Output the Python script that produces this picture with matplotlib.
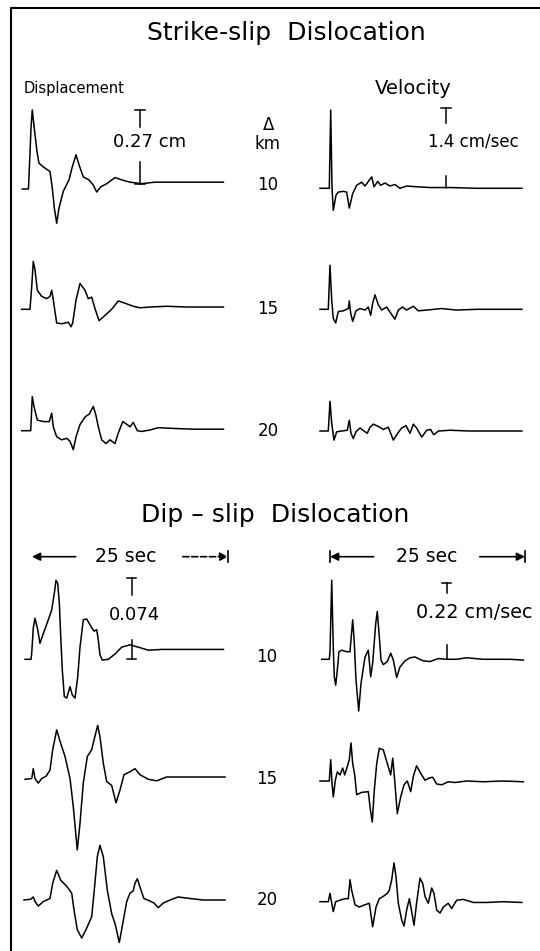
import matplotlib
matplotlib.use("Agg")
import matplotlib.pyplot as plt

W, H, DPI = 540, 951, 100
PX_PER_SEC = 7.8      # horizontal time scale of the traces
PX_PER_UNIT = 76      # one unit = height of the amplitude scale bar

plt.rcParams['font.family'] = ['DejaVu Sans']

# ---- data: time (s) and amplitude (relative to the scale bar) ----
# Strike-slip, displacement
ss_d10_t = [-1.0, -0.2, -0.13, 0.13, 0.29, 0.55, 0.90, 1.15, 1.71, 2.56, 2.86, 3.12, 3.42, 3.72, 4.27, 5.0,
            5.42, 5.90, 6.28, 6.83, 7.56, 8.12, 8.55, 9.10, 9.83, 10.9, 11.76, 12.8, 14.3, 16.0, 19.4, 24.8]
ss_d10_a = [0, 0, 0.16, 0.80, 1.04, 0.80, 0.49, 0.34, 0.29, 0.23, 0.01, -0.25, -0.45, -0.25, -0.03, 0.12,
            0.29, 0.45, 0.32, 0.16, 0.12, 0.05, -0.04, 0.03, 0.07, 0.15, 0.12, 0.09, 0.07, 0.09, 0.09, 0.09]
ss_d15_t = [-1.06, 0, 0.22, 0.42, 0.64, 0.94, 1.5, 2.14, 2.56, 2.78, 2.99, 3.42, 4.06, 4.91, 5.26, 5.47, 5.90,
            6.41, 7.05, 7.47, 7.91, 8.33, 8.85, 9.62, 10.47, 11.32, 12.18, 13.24, 14.1, 15.4, 17.5, 20.1, 24.8]
ss_d15_a = [0, 0, 0.30, 0.63, 0.52, 0.25, 0.17, 0.14, 0.17, 0.25, 0.12, -0.18, -0.19, -0.17, -0.23, -0.18, 0.12,
            0.34, 0.25, 0.14, 0.16, 0.01, -0.15, -0.08, 0, 0.11, 0.08, 0.04, 0.02, 0.03, 0.04, 0.03, 0.03]
ss_d20_t = [-1.06, 0.09, 0.29, 0.51, 0.94, 1.71, 2.47, 2.78, 2.99, 3.42, 4.06, 4.71, 5.13, 5.55, 5.90, 6.41,
            7.05, 7.6, 8.12, 8.46, 8.76, 9.19, 9.74, 10.26, 10.9, 11.32, 11.89, 12.47, 12.82, 13.24, 13.76,
            14.32, 15.4, 16.45, 18.4, 20.9, 24.8]
ss_d20_a = [0, 0, 0.45, 0.32, 0.14, 0.12, 0.12, 0.23, 0.05, -0.08, -0.12, -0.10, -0.14, -0.25, -0.08, 0.08,
            0.18, 0.22, 0.32, 0.20, 0.05, -0.12, -0.17, -0.12, -0.17, -0.03, 0.12, 0.08, 0.05, 0.11, 0,
            -0.01, 0.01, 0.04, 0.03, 0.02, 0.02]

# Strike-slip, velocity
ss_v10_t = [-1.28, -0.09, 0.09, 0.26, 0.42, 0.77, 1.06, 1.71, 2.14, 2.47, 2.91, 3.42, 4.06, 4.49, 4.91, 5.35,
            5.64, 6.12, 6.5, 7.05, 7.69, 8.33, 8.97, 9.83, 11.1, 12.8, 15.4, 18.8, 24.6]
ss_v10_a = [0, 0, 1.03, 0, -0.29, -0.09, -0.05, -0.04, -0.05, -0.26, -0.07, 0.04, 0.08, 0.03, 0.09, 0.15,
            0.02, 0.09, 0.04, 0.07, 0.03, 0.05, 0, 0.03, 0.02, 0.01, 0.01, 0, 0]
ss_v15_t = [-1.28, -0.22, 0, 0.22, 0.42, 0.73, 1.06, 1.71, 2.35, 2.47, 2.65, 2.91, 3.33, 3.85, 4.49, 4.91,
            5.22, 5.47, 5.77, 6.19, 6.63, 7.27, 7.78, 8.33, 8.76, 9.32, 9.83, 10.68, 11.32, 12.4, 14.3,
            16.2, 18.8, 24.6]
ss_v15_a = [0, 0, 0.58, 0.12, -0.12, -0.18, -0.03, -0.02, 0.01, 0.11, -0.05, -0.16, -0.02, 0.01, -0.01, 0.03,
            -0.08, 0.08, 0.19, 0.06, -0.01, 0.03, -0.05, -0.13, -0.01, 0.03, -0.01, 0.04, -0.02, -0.01, 0.01,
            -0.01, 0, 0]
ss_v20_t = [-1.28, -0.22, 0, 0.22, 0.51, 0.86, 1.5, 2.22, 2.47, 2.69, 2.99, 3.33, 3.85, 4.36, 4.78, 5.13,
            5.55, 6.19, 6.83, 7.47, 8.12, 8.68, 9.19, 9.74, 10.26, 10.68, 11.1, 11.76, 12.4, 12.9, 13.3,
            13.9, 15.4, 17.9, 24.6]
ss_v20_a = [0, 0, 0.39, 0.10, -0.12, -0.01, 0, 0.01, 0.14, -0.03, -0.10, -0.01, 0.04, 0, -0.03, 0.05,
            0.09, 0.06, 0.02, 0.05, -0.12, -0.03, 0.04, 0.07, -0.03, 0.09, 0.04, -0.08, 0.01, 0.02, -0.05,
            0, 0.01, 0, 0]

# Dip-slip, displacement
ds_d10_t = [-0.64, 0.13, 0.22, 0.42, 0.64, 0.99, 1.28, 1.71, 2.35, 2.78, 3.12, 3.33, 3.55, 3.76, 3.94, 4.14,
            4.40, 4.71, 5.13, 5.42, 5.77, 6.12, 6.41, 6.83, 7.27, 7.82, 8.21, 8.55, 8.76, 8.97, 9.27, 10.04,
            10.9, 11.76, 12.82, 13.88, 15.17, 16.9, 19.45, 24.8]
ds_d10_a = [0, 0, 0.08, 0.41, 0.54, 0.39, 0.21, 0.34, 0.52, 0.65, 0.87, 1.04, 1.0, 0.74, 0.30, -0.14,
            -0.49, -0.51, -0.36, -0.47, -0.51, -0.23, 0.16, 0.52, 0.53, 0.43, 0.37, 0.39, 0.25, 0.06, -0.01, 0,
            0.07, 0.16, 0.19, 0.16, 0.12, 0.13, 0.13, 0.13]
ds_d15_t = [-0.64, 0.22, 0.42, 0.64, 1.06, 1.5, 2.05, 2.56, 2.91, 3.42, 3.85, 4.49, 5.13, 5.55, 6.06, 6.41,
            6.83, 7.35, 7.91, 8.24, 8.68, 8.97, 9.40, 9.83, 10.47, 11.03, 11.54, 12.05, 12.82, 13.46, 14.1,
            15.17, 16.24, 17.5, 19.2, 21.8, 25.0]
ds_d15_a = [0, 0.01, 0.14, 0.01, -0.05, 0.01, 0.04, 0.12, 0.39, 0.65, 0.50, 0.30, 0.01, -0.36, -0.93, -0.58,
            -0.05, 0.30, 0.39, 0.53, 0.71, 0.56, 0.21, -0.03, -0.08, -0.31, -0.14, 0.06, 0.10, 0.14, 0.06,
            0, -0.02, 0.03, 0.03, 0.03, 0.03]
ds_d20_t = [-0.77, 0.09, 0.42, 0.64, 1.06, 1.71, 2.56, 2.91, 3.42, 3.94, 4.71, 5.35, 5.64, 6.06, 6.63, 7.18,
            7.91, 8.24, 8.63, 8.97, 9.40, 9.91, 10.47, 10.9, 11.45, 11.89, 12.4, 12.82, 13.24, 13.46, 13.76,
            14.1, 14.6, 15.3, 15.9, 16.45, 17.1, 17.95, 19.0, 20.5, 22.2, 25.0]
ds_d20_a = [0, 0.01, 0.04, -0.02, -0.08, -0.02, 0.02, 0.22, 0.39, 0.26, 0.18, 0.09, -0.13, -0.39, -0.50, -0.39,
            -0.22, 0.13, 0.57, 0.72, 0.57, 0.13, -0.18, -0.31, -0.56, -0.31, -0.02, 0.09, 0.12, 0.22, 0.28,
            0.17, 0.02, -0.01, -0.04, -0.10, -0.04, 0, 0.04, 0.02, 0, 0]

# Dip-slip, velocity
ds_v10_t = [-1.06, -0.09, 0, 0.22, 0.42, 0.55, 0.73, 0.94, 1.15, 1.5, 2.14, 2.56, 2.91, 3.12, 3.33, 3.68,
            3.97, 4.49, 4.91, 5.22, 5.47, 5.86, 6.06, 6.32, 6.54, 6.83, 7.35, 7.78, 8.12, 8.55, 8.97, 9.62,
            10.26, 10.9, 11.32, 11.96, 12.82, 13.88, 14.96, 16.2, 17.5, 19.65, 23.1, 24.8]
ds_v10_a = [0, 0, 0.10, 1.04, 0.16, -0.23, -0.34, -0.14, 0.10, 0.12, 0.10, 0.10, 0.52, 0.21, -0.27, -0.68,
            -0.32, 0.03, 0.12, -0.23, -0.05, 0.47, 0.63, 0.30, -0.01, -0.07, -0.03, 0.08, -0.01, -0.24, -0.10,
            -0.02, 0.02, 0.03, 0.01, -0.02, -0.03, 0.01, 0, 0, 0.02, 0, 0, -0.01]
ds_v15_t = [-1.28, -0.09, 0.09, 0.26, 0.42, 0.68, 0.94, 1.28, 1.63, 1.88, 2.22, 2.47, 2.69, 2.91, 3.17, 3.42,
            4.06, 4.91, 5.13, 5.42, 5.68, 5.99, 6.32, 6.83, 7.35, 7.78, 8.04, 8.29, 8.63, 9.06, 9.49, 9.91,
            10.35, 10.68, 11.1, 11.63, 12.18, 12.73, 13.16, 13.68, 14.32, 15.17, 16.0, 17.5, 19.65, 22.2, 24.8]
ds_v15_a = [0, 0, 0.28, -0.03, -0.21, 0.01, 0.12, 0.08, 0.17, 0.08, 0.19, 0.28, 0.50, 0.23, 0.08, -0.18,
            -0.15, -0.14, -0.34, -0.54, -0.12, 0.23, 0.43, 0.41, 0.23, 0.08, 0.30, 0.01, -0.43, -0.21, -0.05, 0,
            -0.14, 0.06, 0.20, 0.10, 0.01, 0.04, 0.05, -0.04, -0.05, -0.01, -0.02, 0, -0.01, 0, -0.01]
ds_v20_t = [-1.28, -0.22, 0, 0.22, 0.42, 0.73, 1.28, 1.92, 2.35, 2.56, 2.78, 3.21, 3.76, 4.49, 5.04, 5.47,
            5.90, 6.32, 6.83, 7.35, 7.6, 7.91, 8.21, 8.46, 8.76, 9.19, 9.49, 9.83, 10.17, 10.47, 10.77, 11.1,
            11.54, 11.89, 12.18, 12.6, 13.04, 13.33, 13.68, 14.1, 14.53, 15.17, 15.6, 16.24, 17.09, 18.37,
            20.1, 22.2, 24.6]
ds_v20_a = [0, 0, 0.11, -0.02, -0.13, 0, 0.02, 0.04, 0.04, 0.29, 0.15, -0.04, -0.07, -0.04, -0.02, -0.33,
            -0.07, 0.04, 0.07, 0.11, 0.15, 0.29, 0.51, 0.33, -0.02, -0.24, -0.32, -0.11, 0.04, -0.13, -0.31, -0.02,
            0.31, 0.24, 0.07, -0.02, 0.18, 0.11, -0.11, -0.15, -0.07, -0.02, -0.09, 0.02, 0.03, -0.01,
            -0.01, 0, -0.01]

distances = ["10", "15", "20"]
scale_labels = {"ss_d": "0.27 cm", "ss_v": "1.4 cm/sec", "ds_d": "0.074", "ds_v": "0.22 cm/sec"}

# ---- layout (pixel positions in the 540x951 picture) ----
X0_LEFT, X0_RIGHT = 30, 330                 # pixel column of t = 0
ROWS = {"ss_d": [189, 309.3, 430.7], "ss_v": [188.3, 309.3, 431],
        "ds_d": [659.3, 779.3, 900], "ds_v": [659.3, 781, 901.7]}

traces = {
    "ss_d": [(ss_d10_t, ss_d10_a), (ss_d15_t, ss_d15_a), (ss_d20_t, ss_d20_a)],
    "ss_v": [(ss_v10_t, ss_v10_a), (ss_v15_t, ss_v15_a), (ss_v20_t, ss_v20_a)],
    "ds_d": [(ds_d10_t, ds_d10_a), (ds_d15_t, ds_d15_a), (ds_d20_t, ds_d20_a)],
    "ds_v": [(ds_v10_t, ds_v10_a), (ds_v15_t, ds_v15_a), (ds_v20_t, ds_v20_a)],
}

fig = plt.figure(figsize=(W / DPI, H / DPI), dpi=DPI)
fig.patch.set_facecolor("white")

T_MIN, T_MAX, A_MIN, A_MAX = -2.0, 26.0, -1.6, 1.6


def trace_axes(x0, base):
    left = (x0 + T_MIN * PX_PER_SEC) / W
    width = (T_MAX - T_MIN) * PX_PER_SEC / W
    bottom = (H - base + A_MIN * PX_PER_UNIT) / H
    height = (A_MAX - A_MIN) * PX_PER_UNIT / H
    ax = fig.add_axes([left, bottom, width, height])
    ax.set_xlim(T_MIN, T_MAX)
    ax.set_ylim(A_MIN, A_MAX)
    ax.axis("off")
    ax.patch.set_visible(False)
    return ax


def fig_text(x, y, s, **kw):
    fig.text(x / W, 1 - y / H, s, **kw)


first_axes = {}
for key, rows in ROWS.items():
    x0 = X0_LEFT if key.endswith("d") else X0_RIGHT
    for i, base in enumerate(rows):
        ax = trace_axes(x0, base)
        t, a = traces[key][i]
        ax.plot(t, a, color="black", lw=1.1, solid_joinstyle="round")
        if i == 0:
            first_axes[key] = ax


def scale_bar(ax, tb, top, stem, low_top, low_bot, label, tx, ta, ha, cap_bottom, size=13):
    kw = dict(color="black", lw=1.1, clip_on=False)
    ax.plot([tb, tb], [top, stem], **kw)
    ax.plot([tb - 0.6, tb + 0.6], [top, top], **kw)
    ax.plot([tb, tb], [low_top, low_bot], **kw)
    if cap_bottom:
        ax.plot([tb - 0.6, tb + 0.6], [low_bot, low_bot], **kw)
    ax.text(tx, ta, label, ha=ha, va="center", fontsize=size)


scale_bar(first_axes["ss_d"], 14.1, 1.04, 0.82, 0.36, 0.07, scale_labels["ss_d"], 10.6, 0.62, "left", True)
scale_bar(first_axes["ss_v"], 14.87, 1.05, 0.86, 0.16, 0.0, scale_labels["ss_v"], 12.5, 0.61, "left", False,
          size=12)
scale_bar(first_axes["ds_d"], 13.04, 1.07, 0.85, 0.25, 0.01, scale_labels["ds_d"], 13.4, 0.58, "center", True)
scale_bar(first_axes["ds_v"], 14.96, 1.0, 0.87, 0.19, 0.0, scale_labels["ds_v"], 11.0, 0.61, "left", False,
          size=13.8)


# 25 sec time marks above the dip-slip traces
def time_mark(ax, t_left, t_right, t_text, a, dash_left, dash_right, bar_left):
    akw = dict(arrowstyle="-|>", color="black", lw=1.2, mutation_scale=12, shrinkA=0, shrinkB=0)
    ax.annotate("", xy=(t_left, a), xytext=(t_left + 5.6, a),
                arrowprops=dict(akw, linestyle="--" if dash_left else "-"), annotation_clip=False)
    ax.annotate("", xy=(t_right, a), xytext=(t_right - 5.8, a),
                arrowprops=dict(akw, linestyle="--" if dash_right else "-"), annotation_clip=False)
    bkw = dict(color="black", lw=1.2, clip_on=False)
    ax.plot([t_right, t_right], [a - 0.07, a + 0.07], **bkw)
    if bar_left:
        ax.plot([t_left, t_left], [a - 0.07, a + 0.07], **bkw)
    ax.text(t_text, a, "25 sec", ha="center", va="center", fontsize=13.5)


time_mark(first_axes["ds_d"], 0.26, 25.4, 12.3, 1.35, False, True, False)
time_mark(first_axes["ds_v"], 0.0, 25.0, 12.4, 1.35, False, False, True)

# titles and labels
fig_text(286, 33, "Strike-slip  Dislocation", ha="center", va="center", fontsize=18)
fig_text(275, 515, "Dip \u2013 slip  Dislocation", ha="center", va="center", fontsize=18)
fig_text(24, 89, "Displacement", ha="left", va="center", fontsize=10.5)
fig_text(413, 89, "Velocity", ha="center", va="center", fontsize=14)
fig_text(269, 125, "\u0394", ha="center", va="center", fontsize=12)
fig_text(268, 144, "km", ha="center", va="center", fontsize=12)
for y, lab in zip([185, 309, 431], distances):
    fig_text(268, y, lab, ha="center", va="center", fontsize=12)
for y, lab in zip([657, 779, 900], distances):
    fig_text(267, y, lab, ha="center", va="center", fontsize=12)

# frame lines (left and top edges of the scanned figure)
frame = fig.add_axes([0, 0, 1, 1])
frame.set_xlim(0, W)
frame.set_ylim(H, 0)
frame.axis("off")
frame.patch.set_visible(False)
frame.plot([11, 11, W], [H, 8, 8], color="black", lw=1.5)

fig.savefig("out.png", dpi=DPI)
